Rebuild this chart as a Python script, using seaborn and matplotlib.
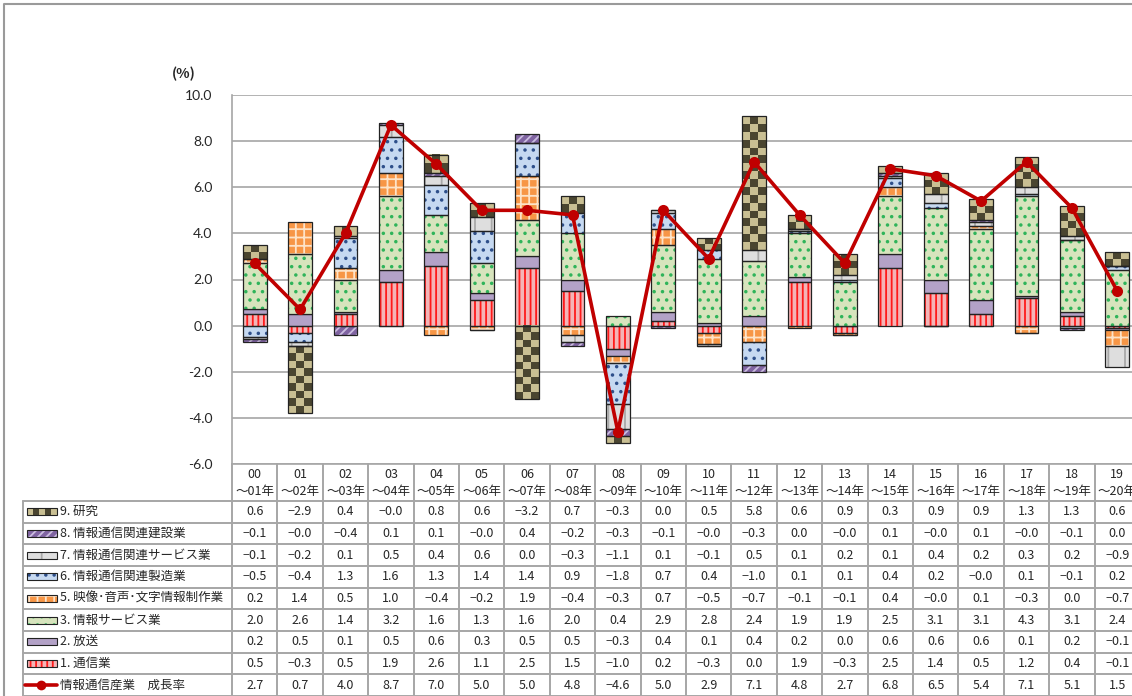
import numpy as np
import matplotlib
matplotlib.use("Agg")
import matplotlib.pyplot as plt
from matplotlib.patches import Rectangle
from matplotlib.lines import Line2D
from matplotlib.colors import ListedColormap
from matplotlib.ticker import FormatStrFormatter, MultipleLocator
import seaborn as sns

# ---- data (寄与度, %) ----
period_from = ["00", "01", "02", "03", "04", "05", "06", "07", "08", "09",
               "10", "11", "12", "13", "14", "15", "16", "17", "18", "19"]
period_to = ["01", "02", "03", "04", "05", "06", "07", "08", "09", "10",
             "11", "12", "13", "14", "15", "16", "17", "18", "19", "20"]

kenkyu = [0.6, -2.9, 0.4, -0.0, 0.8, 0.6, -3.2, 0.7, -0.3, 0.0,
          0.5, 5.8, 0.6, 0.9, 0.3, 0.9, 0.9, 1.3, 1.3, 0.6]
kensetsu = [-0.1, -0.0, -0.4, 0.1, 0.1, -0.0, 0.4, -0.2, -0.3, -0.1,
            -0.0, -0.3, 0.0, -0.0, 0.1, -0.0, 0.1, -0.0, -0.1, 0.0]
kanren_service = [-0.1, -0.2, 0.1, 0.5, 0.4, 0.6, 0.0, -0.3, -1.1, 0.1,
                  -0.1, 0.5, 0.1, 0.2, 0.1, 0.4, 0.2, 0.3, 0.2, -0.9]
kanren_seizo = [-0.5, -0.4, 1.3, 1.6, 1.3, 1.4, 1.4, 0.9, -1.8, 0.7,
                0.4, -1.0, 0.1, 0.1, 0.4, 0.2, -0.0, 0.1, -0.1, 0.2]
eizo = [0.2, 1.4, 0.5, 1.0, -0.4, -0.2, 1.9, -0.4, -0.3, 0.7,
        -0.5, -0.7, -0.1, -0.1, 0.4, -0.0, 0.1, -0.3, 0.0, -0.7]
joho_service = [2.0, 2.6, 1.4, 3.2, 1.6, 1.3, 1.6, 2.0, 0.4, 2.9,
                2.8, 2.4, 1.9, 1.9, 2.5, 3.1, 3.1, 4.3, 3.1, 2.4]
hoso = [0.2, 0.5, 0.1, 0.5, 0.6, 0.3, 0.5, 0.5, -0.3, 0.4,
        0.1, 0.4, 0.2, 0.0, 0.6, 0.6, 0.6, 0.1, 0.2, -0.1]
tsushin = [0.5, -0.3, 0.5, 1.9, 2.6, 1.1, 2.5, 1.5, -1.0, 0.2,
           -0.3, 0.0, 1.9, -0.3, 2.5, 1.4, 0.5, 1.2, 0.4, -0.1]
growth = [2.7, 0.7, 4.0, 8.7, 7.0, 5.0, 5.0, 4.8, -4.6, 5.0,
          2.9, 7.1, 4.8, 2.7, 6.8, 6.5, 5.4, 7.1, 5.1, 1.5]

labels = ["1. 通信業", "2. 放送", "3. 情報サービス業", "5. 映像･音声･文字情報制作業",
          "6. 情報通信関連製造業", "7. 情報通信関連サービス業", "8. 情報通信関連建設業", "9. 研究"]
growth_label = "情報通信産業　成長率"

# ---- styles ----
styles = [
    dict(face="#f4b4b6", hatch="|||", hc="#ff1a1a"),
    dict(face="#b3a2c7", hatch=None, hc=None),
    dict(face="#d7e4bd", hatch="..", hc="#2fb45a"),
    dict(face="#f79646", hatch="++", hc="#fde3c8"),
    dict(face="#c6d9f1", hatch="..", hc="#2e4f8a"),
    dict(face="#dedede", hatch="|", hc="#a8a8a8"),
    dict(face="#8064a2", hatch="////", hc="#cbbde0"),
    dict(face="checker", hatch=None, hc=None),
]
checker_cmap = ListedColormap(["#c9bf93", "#4a4530"])
line_red = "#c00000"
grid_gray = "#a6a6a6"

sns.set_style("white")
plt.rcParams["font.family"] = ["Noto Sans CJK JP", "DejaVu Sans"]
plt.rcParams["axes.unicode_minus"] = False
plt.rcParams["hatch.linewidth"] = 1.3

W_PX, H_PX = 1132, 696
X0, COLW = 232, 45.4
TOP, BOT = 95, 464
n = len(period_from)
x = np.arange(n)
bw = 0.52

fig = plt.figure(figsize=(W_PX / 100, H_PX / 100), dpi=100)
ax = fig.add_axes([X0 / W_PX, 1 - BOT / H_PX, n * COLW / W_PX, (BOT - TOP) / H_PX])


def draw_layer(ax, xs, h, b, st, z=2):
    if st["face"] == "checker":
        bars = ax.bar(xs, h, bottom=b, width=bw, color="none", edgecolor="#222222",
                      linewidth=0.9, zorder=z + 0.2)
        for p, hv in zip(bars.patches, h):
            if hv == 0:
                continue
            nr = max(1, int(round(abs(hv) * 3)))
            arr = np.add.outer(np.arange(nr), np.arange(3)) % 2
            y0, y1 = sorted([p.get_y(), p.get_y() + p.get_height()])
            ax.imshow(arr, cmap=checker_cmap, extent=(p.get_x(), p.get_x() + p.get_width(), y0, y1),
                      aspect="auto", interpolation="nearest", zorder=z)
        return
    if st["hatch"] is None:
        ax.bar(xs, h, bottom=b, width=bw, color=st["face"], edgecolor="#222222",
               linewidth=0.9, zorder=z)
    else:
        ax.bar(xs, h, bottom=b, width=bw, color=st["face"], edgecolor=st["hc"],
               hatch=st["hatch"], linewidth=0, zorder=z)
        ax.bar(xs, h, bottom=b, width=bw, fill=False, edgecolor="#222222",
               linewidth=0.9, zorder=z + 0.2)


stack = [tsushin, hoso, joho_service, eizo, kanren_seizo, kanren_service, kensetsu, kenkyu]
pos_b = np.zeros(n)
neg_b = np.zeros(n)
for vals, st in zip(stack, styles):
    v = np.array(vals, dtype=float)
    neg = np.signbit(v)
    b = np.where(neg, neg_b, pos_b)
    draw_layer(ax, x, v, b, st)
    pos_b += np.where(neg, 0, v)
    neg_b += np.where(neg, v, 0)

sns.lineplot(x=x, y=growth, ax=ax, color=line_red, linewidth=2.6, marker="o",
             markersize=8, markeredgewidth=0, zorder=6)

ax.set_xlim(-0.5, n - 0.5)
ax.set_ylim(-6, 10)
ax.yaxis.set_major_locator(MultipleLocator(2))
ax.yaxis.set_major_formatter(FormatStrFormatter("%.1f"))
ax.grid(axis="y", color=grid_gray, linewidth=1.2)
ax.set_axisbelow(True)
ax.set_xticks([])
ax.tick_params(axis="y", length=0, pad=14, labelsize=10)
for t in ax.get_yticklabels():
    t.set_fontfamily("Lato")
for s in ["top", "right"]:
    ax.spines[s].set_visible(False)
for s in ["left", "bottom"]:
    ax.spines[s].set_color(grid_gray)
    ax.spines[s].set_linewidth(1.2)
ax.set_xlabel("")
ax.set_ylabel("")

# ---- table / category header canvas ----
cv = fig.add_axes([0, 0, 1, 1], zorder=3)
cv.set_xlim(0, W_PX)
cv.set_ylim(H_PX, 0)
cv.axis("off")

fig.text(184 / W_PX, 1 - 74 / H_PX, "(%)", ha="center", va="center", fontsize=10,
         fontweight="bold")

# outer frame
cv.add_line(Line2D([4, 4, W_PX + 10], [H_PX + 10, 4, 4], color="#9a9a9a", lw=1.5))

HEAD_B = 501
ROW_H = (H_PX - HEAD_B) / 9
LAB_L = 23
right = X0 + n * COLW
lkw = dict(color=grid_gray, lw=1.4)

for i in range(n + 1):
    xx = X0 + i * COLW
    cv.add_line(Line2D([xx, xx], [BOT, H_PX + 5], **lkw))
for i in range(n):
    cx = X0 + (i + 0.5) * COLW
    cv.text(cx, BOT + 11, period_from[i], ha="center", va="center", fontsize=9)
    cv.text(cx, BOT + 27, "～" + period_to[i] + "年", ha="center", va="center", fontsize=9)

cv.add_line(Line2D([LAB_L, LAB_L], [HEAD_B, H_PX + 5], **lkw))
for r in range(10):
    yy = HEAD_B + r * ROW_H
    cv.add_line(Line2D([LAB_L, right], [yy, yy], **lkw))

# rows: 9,8,7,6,5,3,2,1 then growth
row_series = list(zip(stack, styles, labels))[::-1]


def fmt(v):
    return f"{v:.1f}".replace("-", "−")


for r, (vals, st, lab) in enumerate(row_series):
    cy = HEAD_B + (r + 0.5) * ROW_H
    sx, sw, sh = 27, 30, 7
    if st["face"] == "checker":
        cv.imshow(np.arange(5).reshape(1, 5) % 2, cmap=checker_cmap,
                  extent=(sx, sx + sw, cy + sh / 2, cy - sh / 2), aspect="auto",
                  interpolation="nearest", zorder=3)
        cv.add_patch(Rectangle((sx, cy - sh / 2), sw, sh, fill=False, ec="#222222", lw=0.8, zorder=4))
    elif st["hatch"] is None:
        cv.add_patch(Rectangle((sx, cy - sh / 2), sw, sh, fc=st["face"], ec="#222222", lw=0.8))
    else:
        cv.add_patch(Rectangle((sx, cy - sh / 2), sw, sh, fc=st["face"], ec=st["hc"],
                               hatch=st["hatch"], lw=0))
        cv.add_patch(Rectangle((sx, cy - sh / 2), sw, sh, fill=False, ec="#222222", lw=0.8))
    cv.text(sx + sw + 3, cy, lab, ha="left", va="center", fontsize=9)
    for i, v in enumerate(vals):
        cv.text(X0 + (i + 0.5) * COLW, cy, fmt(v), ha="center", va="center", fontsize=9)

cy = HEAD_B + 8.5 * ROW_H
cv.add_line(Line2D([25, 57], [cy, cy], color=line_red, lw=2.6))
cv.add_line(Line2D([41], [cy], color=line_red, marker="o", markersize=7, markeredgewidth=0))
cv.text(60, cy, growth_label, ha="left", va="center", fontsize=9)
for i, v in enumerate(growth):
    cv.text(X0 + (i + 0.5) * COLW, cy, fmt(v), ha="center", va="center", fontsize=9)

fig.savefig("out.png", dpi=100)
